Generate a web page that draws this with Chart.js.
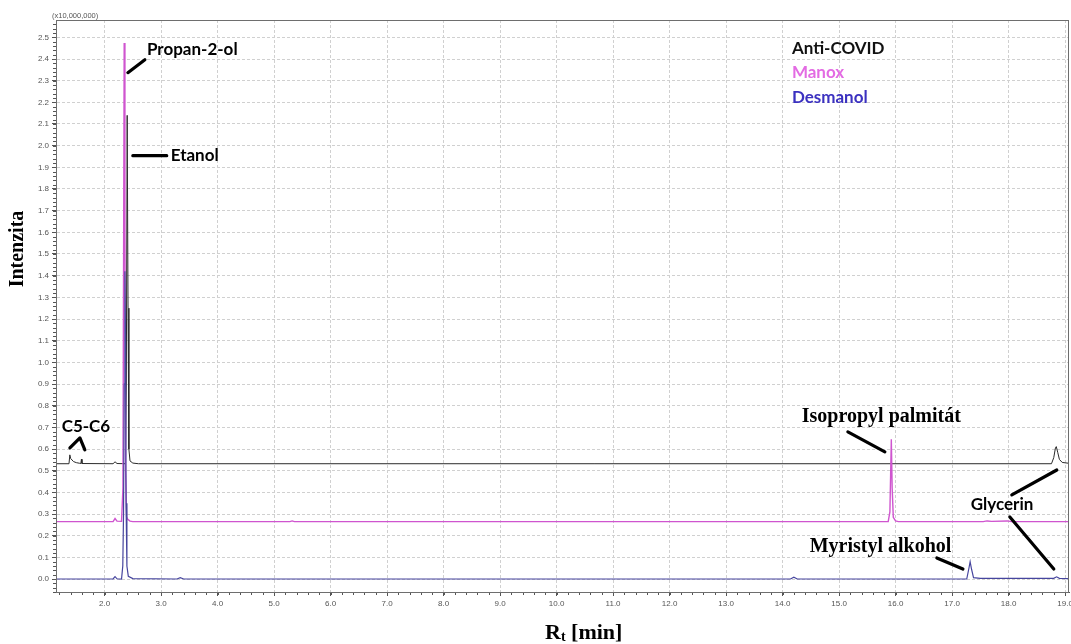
<!DOCTYPE html>
<html>
<head>
<meta charset="utf-8">
<script src="https://cdn.jsdelivr.net/npm/chart.js@4.4.1/dist/chart.umd.min.js"></script>
<style>
  html, body { margin: 0; padding: 0; background: #fff; }
  #wrap { width: 1071px; height: 644px; position: relative; }
</style>
</head>
<body>
<div id="wrap"><canvas id="chrom"></canvas></div>
<script>
// chromatogram traces, [Rt min, intensity x10^7]
const antiCovid = [
  [1.14, 0.532], [1.37, 0.532], [1.385, 0.573], [1.40, 0.556], [1.45, 0.542], [1.50, 0.537],
  [1.56, 0.534], [1.58, 0.533], [1.59, 0.553], [1.60, 0.533], [2.15, 0.532], [2.185, 0.541],
  [2.22, 0.533], [2.37, 0.532], [2.385, 0.9], [2.40, 2.14], [2.415, 1.25], [2.43, 0.6],
  [2.45, 0.545], [2.50, 0.535], [2.60, 0.532], [18.76, 0.532], [18.80, 0.56], [18.83, 0.605],
  [18.845, 0.611], [18.87, 0.585], [18.90, 0.552], [18.95, 0.538], [19.07, 0.534]
];
const manox = [
  [1.14, 0.265], [2.15, 0.265], [2.185, 0.279], [2.22, 0.267], [2.30, 0.266], [2.325, 0.42],
  [2.347, 2.474], [2.36, 1.6], [2.372, 0.5], [2.39, 0.287], [2.41, 0.276], [2.45, 0.267],
  [2.50, 0.265], [5.28, 0.265], [5.32, 0.268], [5.36, 0.265], [15.87, 0.265], [15.90, 0.31],
  [15.925, 0.645], [15.94, 0.42], [15.96, 0.285], [16.00, 0.268], [16.05, 0.265], [17.55, 0.265],
  [17.62, 0.268], [17.70, 0.266], [17.98, 0.268], [18.05, 0.265], [19.07, 0.265]
];
const desmanol = [
  [1.14, 0.0], [2.15, 0.0], [2.185, 0.011], [2.22, 0.001], [2.30, 0.0], [2.322, 0.06],
  [2.335, 0.295], [2.348, 0.9], [2.36, 1.42], [2.37, 1.13], [2.38, 0.35], [2.395, 0.06],
  [2.42, 0.012], [2.50, 0.002], [3.28, 0.0], [3.34, 0.006], [3.40, 0.0], [14.14, 0.0],
  [14.20, 0.008], [14.26, 0.0], [17.26, 0.0], [17.295, 0.045], [17.32, 0.08], [17.345, 0.045],
  [17.38, 0.006], [17.50, 0.003], [18.80, 0.003], [18.85, 0.01], [18.90, 0.003], [19.07, 0.002]
];

const seriesNames = ["Anti-COVID", "Manox", "Desmanol"];
const lineColors = ["#2b2b2b", "#cf55cf", "#46459e"];
const legendColors = ["#111111", "#e36be3", "#3b31c0"];

const xTicks = [2, 3, 4, 5, 6, 7, 8, 9, 10, 11, 12, 13, 14, 15, 16, 17, 18, 19];
const yTicks = [0.0, 0.1, 0.2, 0.3, 0.4, 0.5, 0.6, 0.7, 0.8, 0.9, 1.0, 1.1, 1.2, 1.3,
                1.4, 1.5, 1.6, 1.7, 1.8, 1.9, 2.0, 2.1, 2.2, 2.3, 2.4, 2.5];

// peak labels and pointer strokes, placed in data units
const sansBold = "bold 17px Lato, 'Open Sans', sans-serif";
const serifBold = "bold 20px 'Liberation Serif', 'DejaVu Serif', serif";
const peakLabels = [
  { text: "Propan-2-ol", x: 2.75, y: 2.443, font: sansBold },
  { text: "Etanol", x: 3.17, y: 1.954, font: sansBold },
  { text: "C5-C6", x: 1.24, y: 0.702, font: sansBold },
  { text: "Glycerin", x: 17.33, y: 0.342, font: sansBold },
  { text: "Isopropyl palmitát", x: 14.34, y: 0.748, font: serifBold },
  { text: "Myristyl alkohol", x: 14.48, y: 0.148, font: serifBold }
];
const pointers = [
  [[2.412, 2.337], [2.713, 2.397]],
  [[2.50, 1.954], [3.10, 1.954]],
  [[1.386, 0.605], [1.563, 0.651], [1.651, 0.596]],
  [[15.156, 0.679], [15.811, 0.587]],
  [[18.058, 0.388], [18.854, 0.503]],
  [[18.023, 0.286], [18.801, 0.046]],
  [[16.731, 0.097], [17.192, 0.046]]
];
const legendPos = { x: 14.165, y: [2.448, 2.337, 2.222] };

const toXY = arr => arr.map(p => ({ x: p[0], y: p[1] }));

const decorPlugin = {
  id: "decor",
  afterDatasetsDraw(chart) {
    const { ctx, chartArea: a, scales: { x, y } } = chart;
    ctx.save();

    // minor ticks
    ctx.strokeStyle = "#555";
    ctx.lineWidth = 1;
    ctx.beginPath();
    for (let v = 1.2; v < 19.06; v += 0.2) {
      const px = Math.round(x.getPixelForValue(v)) + 0.5;
      ctx.moveTo(px, a.bottom); ctx.lineTo(px, a.bottom + 3);
    }
    for (let v = -0.06; v < 2.58; v += 0.02) {
      const py = Math.round(y.getPixelForValue(v)) + 0.5;
      ctx.moveTo(a.left, py); ctx.lineTo(a.left - 3, py);
    }
    ctx.stroke();

    // frame
    ctx.strokeStyle = "#6e6e6e";
    ctx.strokeRect(a.left + 0.5, a.top + 0.5, a.right - a.left - 1, a.bottom - a.top);

    // pointer strokes
    ctx.strokeStyle = "#000";
    ctx.lineWidth = 3.2;
    ctx.lineCap = "round";
    ctx.lineJoin = "round";
    pointers.forEach(pts => {
      ctx.beginPath();
      pts.forEach((p, i) => {
        const px = x.getPixelForValue(p[0]), py = y.getPixelForValue(p[1]);
        if (i === 0) ctx.moveTo(px, py); else ctx.lineTo(px, py);
      });
      ctx.stroke();
    });

    // peak labels
    ctx.fillStyle = "#000";
    ctx.textBaseline = "middle";
    ctx.textAlign = "left";
    peakLabels.forEach(l => {
      ctx.font = l.font;
      ctx.fillText(l.text, x.getPixelForValue(l.x), y.getPixelForValue(l.y));
    });

    // legend as coloured text
    ctx.font = sansBold;
    seriesNames.forEach((n, i) => {
      ctx.fillStyle = legendColors[i];
      ctx.fillText(n, x.getPixelForValue(legendPos.x), y.getPixelForValue(legendPos.y[i]));
    });

    // multiplier note
    ctx.fillStyle = "#555";
    ctx.font = "7.5px 'Liberation Sans', Arial, sans-serif";
    ctx.fillText("(x10,000,000)", a.left - 4, a.top - 4);

    // y title
    ctx.fillStyle = "#000";
    ctx.save();
    ctx.translate(18, 249);
    ctx.rotate(-Math.PI / 2);
    ctx.textAlign = "center";
    ctx.font = serifBold;
    ctx.fillText("Intenzita", 0, 0);
    ctx.restore();

    // x title R_t [min]
    ctx.textBaseline = "alphabetic";
    let cx = 545;
    const base = 639;
    ctx.font = "bold 22px 'Liberation Serif', serif";
    ctx.fillText("R", cx, base);
    cx += ctx.measureText("R").width;
    ctx.font = "bold 14px 'Liberation Serif', serif";
    ctx.fillText("t", cx, base + 2);
    cx += ctx.measureText("t").width;
    ctx.font = "bold 22px 'Liberation Serif', serif";
    ctx.fillText(" [min]", cx, base);

    ctx.restore();
  }
};

new Chart(document.getElementById("chrom"), {
  type: "line",
  data: {
    datasets: [
      { label: seriesNames[0], data: toXY(antiCovid), borderColor: lineColors[0], borderWidth: 1, order: 2 },
      { label: seriesNames[1], data: toXY(manox), borderColor: lineColors[1], borderWidth: 1.4, order: 1 },
      { label: seriesNames[2], data: toXY(desmanol), borderColor: lineColors[2], borderWidth: 1.2, order: 0 }
    ]
  },
  options: {
    responsive: true,
    maintainAspectRatio: false,
    animation: false,
    layout: { autoPadding: false, padding: { top: 20, right: 2, left: 0, bottom: 0 } },
    elements: { point: { radius: 0, hoverRadius: 0 }, line: { tension: 0 } },
    plugins: { legend: { display: false }, tooltip: { enabled: false } },
    scales: {
      x: {
        type: "linear",
        min: 1.14,
        max: 19.07,
        afterBuildTicks: s => { s.ticks = xTicks.map(v => ({ value: v })); },
        afterFit: s => { s.height = 52; s.paddingLeft = 0; s.paddingRight = 0; },
        grid: { color: "#d0d0d0", tickColor: "#555", tickLength: 4, lineWidth: 1 },
        border: { display: true, color: "#555", dash: [3, 2] },
        ticks: {
          color: "#555", padding: 3, maxRotation: 0, autoSkip: false,
          font: { size: 8, family: "'Liberation Sans', Arial, sans-serif" },
          callback: v => v.toFixed(1)
        }
      },
      y: {
        type: "linear",
        min: -0.06,
        max: 2.58,
        afterBuildTicks: s => { s.ticks = yTicks.map(v => ({ value: v })); },
        afterFit: s => { s.width = 56; s.paddingTop = 0; s.paddingBottom = 0; },
        grid: { color: "#d0d0d0", tickColor: "#555", tickLength: 4, lineWidth: 1 },
        border: { display: true, color: "#555", dash: [3, 2] },
        ticks: {
          color: "#555", padding: 3, autoSkip: false,
          font: { size: 8, family: "'Liberation Sans', Arial, sans-serif" },
          callback: v => Math.abs(v).toFixed(1)
        }
      }
    }
  },
  plugins: [decorPlugin]
});
</script>
</body>
</html>
